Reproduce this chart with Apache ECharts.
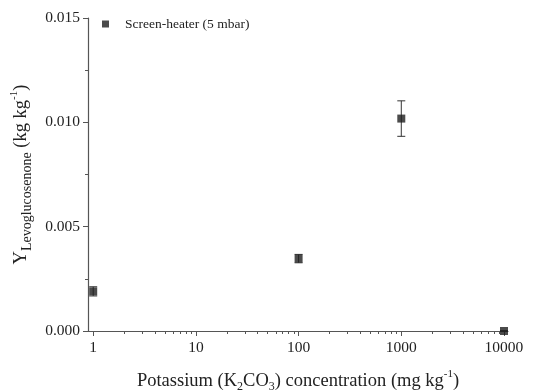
<!DOCTYPE html>
<html lang="en">
<head>
  <meta charset="UTF-8">
  <title>Levoglucosenone yield</title>
  <style>
    html, body{margin: 0; padding: 0; background: #fff}
    #chart{width: 533px; height: 391px}
  </style>
  <script src="https://cdn.jsdelivr.net/npm/echarts@6/dist/echarts.min.js"></script>
</head>
<body>
  <div id="chart"></div>
  <script>
    // potassium concentration (mg/kg) and levoglucosenone yield (kg/kg)
    const concentrations = [1, 100, 1000, 10000];
    const yields = [0.0019, 0.00347, 0.01018, 0.0000];
    const yieldErrors = [0.00022, 0.00020, 0.00085, 0.00002];

    const majorTicks = [1, 10, 100, 1000, 10000];
    const minorTicks = [];
    majorTicks.slice(0, -1).forEach(d => {
      for (let k = 2; k <= 9; k++) minorTicks.push(d * k);
    });

    const font = 'Liberation Serif, Times New Roman, serif';
    const ink = '#222';

    const points = concentrations.map((c, i) => [c, yields[i]]);
    const bars = concentrations.map((c, i) => [c, yields[i] - yieldErrors[i], yields[i] + yieldErrors[i]]);

    // rich text styles for titles with sub/superscripts
    const titleRich = {
      t: {fontFamily: font, fontSize: 18.5, color: ink, lineHeight: 24, verticalAlign: 'middle'},
      sub: {fontFamily: font, fontSize: 12, color: ink, lineHeight: 24, verticalAlign: 'bottom'},
      bigsub: {fontFamily: font, fontSize: 14, color: ink, lineHeight: 26, verticalAlign: 'bottom'},
      sup: {fontFamily: font, fontSize: 11, color: ink, lineHeight: 24, verticalAlign: 'top'}
    };

    const chart = echarts.init(document.getElementById('chart'));

    chart.setOption({
      animation: false,
      grid: {left: 88, top: 18, right: 25, bottom: 60, containLabel: false, outerBoundsMode: 'none'},
      legend: {
        left: 97, top: 12, padding: 5,
        icon: 'rect', itemWidth: 7, itemHeight: 7, itemGap: 10,
        textStyle: {fontFamily: font, fontSize: 13.5, color: ink, padding: [0, 0, 0, 11]},
        data: ['Screen-heater (5 mbar)']
      },
      xAxis: [{
        type: 'log', logBase: 10,
        min: 0.89, max: 10940,
        axisLine: {lineStyle: {color: '#555', width: 1.2}},
        axisTick: {show: true, length: 5, inside: false, customValues: majorTicks,
          lineStyle: {color: '#555'}},
        axisLabel: {customValues: majorTicks, margin: 9,
          fontFamily: font, fontSize: 15.5, color: ink,
          formatter: v => String(Math.round(v))},
        splitLine: {show: false},
        name: '{t|Potassium (K}{sub|2}{t|CO}{sub|3}{t|) concentration (mg kg}{sup|-1}{t|)}',
        nameLocation: 'middle', nameGap: 38,
        nameTextStyle: {fontFamily: font, fontSize: 18.5, color: ink, rich: titleRich}
      }, {
        type: 'log', logBase: 10,
        min: 0.89, max: 10940,
        position: 'bottom',
        axisLine: {show: false},
        axisTick: {show: true, length: 3, customValues: minorTicks, lineStyle: {color: '#555'}},
        axisLabel: {show: false},
        splitLine: {show: false}
      }],
      yAxis: {
        type: 'value',
        min: 0, max: 0.015, interval: 0.005,
        axisLine: {show: true, lineStyle: {color: '#555', width: 1.2}},
        axisTick: {show: true, length: 5, lineStyle: {color: '#555'}},
        minorTick: {show: true, splitNumber: 2, length: 3, lineStyle: {color: '#555'}},
        axisLabel: {margin: 8, fontFamily: font, fontSize: 15.5, color: ink,
          formatter: v => v.toFixed(3)},
        splitLine: {show: false},
        name: '{t|Y}{bigsub|Levoglucosenone}{t| (kg kg}{sup|-1}{t|)}',
        nameLocation: 'middle', nameGap: 52, nameRotate: 90,
        nameTextStyle: {fontFamily: font, fontSize: 18.5, color: ink, rich: titleRich}
      },
      series: [{
        type: 'custom',
        name: 'errors',
        xAxisIndex: 0,
        data: bars,
        z: 2,
        renderItem: function(params, api){
          const x = api.value(0);
          const lo = api.coord([x, api.value(1)]);
          const hi = api.coord([x, api.value(2)]);
          const cap = 4;
          const style = {stroke: '#333', lineWidth: 1};
          return {
            type: 'group',
            children: [
              {type: 'line', shape: {x1: lo[0], y1: lo[1], x2: hi[0], y2: hi[1]}, style: style},
              {type: 'line', shape: {x1: lo[0] - cap, y1: lo[1], x2: lo[0] + cap, y2: lo[1]}, style: style},
              {type: 'line', shape: {x1: hi[0] - cap, y1: hi[1], x2: hi[0] + cap, y2: hi[1]}, style: style}
            ]
          };
        }
      }, {
        type: 'scatter',
        name: 'Screen-heater (5 mbar)',
        xAxisIndex: 0,
        symbol: 'rect',
        symbolSize: 8,
        itemStyle: {color: '#1e1e1e'},
        data: points,
        z: 3
      }]
    });
  </script>
</body>
</html>
